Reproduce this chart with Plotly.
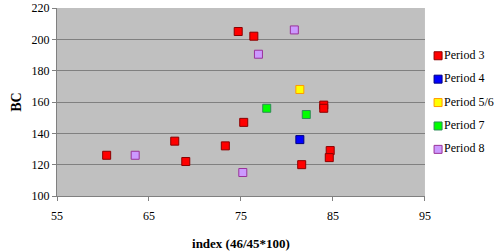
import plotly.graph_objects as go

series_names = ["Period 3", "Period 4", "Period 5/6", "Period 7", "Period 8"]
p3_x = [74.7, 76.4, 84.0, 84.0, 75.3, 60.4, 67.8, 69.0, 73.3, 81.6, 84.7, 84.6]
p3_y = [205, 202, 158, 156, 147, 126, 135, 122, 132, 120, 129, 124.5]
p4_x = [81.4]
p4_y = [136]
p56_x = [81.4]
p56_y = [168]
p7_x = [77.8, 82.1]
p7_y = [156, 152]
p8_x = [80.8, 76.9, 63.5, 75.2]
p8_y = [206, 190.5, 126, 115]

fills = ["#ff0000", "#0000ff", "#ffff00", "#00ff00", "#cc99ff"]
edges = ["#8b0000", "#000080", "#ff9900", "#2e8b57", "#993399"]
xs = [p3_x, p4_x, p56_x, p7_x, p8_x]
ys = [p3_y, p4_y, p56_y, p7_y, p8_y]

font_family = "Liberation Serif"

fig = go.Figure()
for name, x, y, fc, ec in zip(series_names, xs, ys, fills, edges):
    fig.add_trace(go.Scatter(
        x=x, y=y, mode="markers", name=name, showlegend=False,
        marker=dict(symbol="square", size=8, color=fc, line=dict(color=ec, width=1)),
    ))

# custom legend on a hidden overlay axis
n = len(series_names)
for i, (name, fc, ec) in enumerate(zip(series_names, fills, edges)):
    fig.add_trace(go.Scatter(
        x=[0], y=[i], mode="markers+text", text=[name], textposition="middle right",
        textfont=dict(family=font_family, size=12, color="black"),
        marker=dict(symbol="square", size=8, color=fc, line=dict(color=ec, width=1)),
        xaxis="x2", yaxis="y2", showlegend=False, cliponaxis=False, hoverinfo="skip",
    ))

fig.add_shape(type="rect", xref="x domain", yref="y domain", x0=0, x1=1, y0=0, y1=1,
              fillcolor="#c0c0c0", line=dict(width=0), layer="below")

fig.update_layout(
    width=500, height=252,
    margin=dict(l=57, r=0, t=8, b=56),
    paper_bgcolor="white",
    plot_bgcolor="rgba(0,0,0,0)",
    font=dict(family=font_family, size=12, color="black"),
    xaxis=dict(
        domain=[0, 373 / 443],
        range=[55, 95], tickvals=[55, 65, 75, 85, 95], showgrid=False, zeroline=False,
        showline=True, linecolor="#808080", linewidth=1,
        ticks="outside", ticklen=4, tickcolor="#808080",
        ticklabelstandoff=5,
        title=dict(text="<b>index (46/45*100)</b>", font=dict(size=13), standoff=16),
        tickfont=dict(size=12),
    ),
    yaxis=dict(
        range=[100, 220], tickvals=[100, 120, 140, 160, 180, 200, 220],
        showgrid=True, gridcolor="#808080", gridwidth=1, zeroline=False,
        showline=True, linecolor="#808080", linewidth=1,
        ticks="outside", ticklen=4, tickcolor="#808080",
        title=dict(text="<b>BC</b>", font=dict(size=14), standoff=6),
        tickfont=dict(size=12),
    ),
    xaxis2=dict(domain=[0.872, 1.0], range=[0, 10], visible=False, fixedrange=True, anchor="y2"),
    yaxis2=dict(domain=[0.248, 0.746], range=[n - 1, 0], visible=False, fixedrange=True, anchor="x2"),
    showlegend=False,
)
fig.write_html("out.html")
